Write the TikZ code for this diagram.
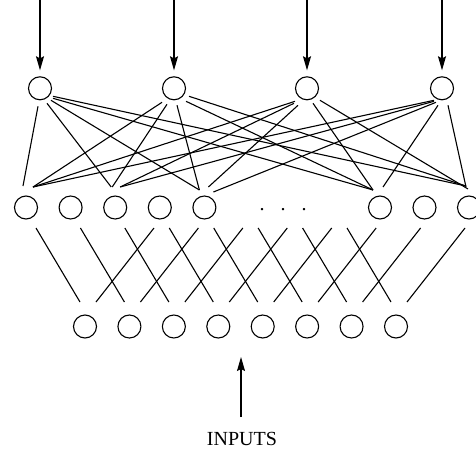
\documentclass[tikz,border=0pt]{standalone}
\usepackage{fontspec}
\setmainfont{Liberation Serif}
\usetikzlibrary{calc,arrows.meta}

\begin{document}
\begin{tikzpicture}[x=1pt,y=-1pt,
  unit/.style={circle,draw,line width=1.1pt,minimum size=23pt,inner sep=0pt},
  wire/.style={line width=1.1pt},
  feed/.style={line width=1.1pt,-{Stealth[length=14pt,width=8pt,inset=2pt]}},
  lab/.style={font=\fontsize{20}{24}\selectfont,inner sep=0pt}]
\useasboundingbox (0,0) rectangle (476,450);

% output layer
\foreach \i/\x in {1/40,2/174,3/307,4/442}
  \node[unit] (t\i) at (\x,88.3) {};

% hidden layer (visible units only)
\foreach \i/\x in {0/26,1/70.6,2/115.2,3/159.8,4/204.4,8/380,9/424.5,10/469}
  \node[unit] (m\i) at (\x,207.5) {};

% input layer
\foreach \i in {0,...,7}
  \node[unit] (b\i) at ({85+44.43*\i},326.5) {};

% ellipsis between the hidden units
\node[lab,anchor=base] (dots) at (283,210) {.\hspace{16pt}.\hspace{16pt}.};

% arrows into the output units
\foreach \i/\x in {1/40,2/174,3/307,4/442}{
  \coordinate (src\i) at (\x,-1);
  \draw[feed] (src\i) -- ($(t\i)+(0,-18)$);
}

% output -> hidden connections
\foreach \t/\m/\sx/\sy/\ex/\ey in {
  1/0/-2/18/-3/-21.5, 1/2/7/15/-4/-20.5, 1/4/11/12/-5/-17.5, 1/8/13/10/-7/-17.5, 1/10/13/8/-3/-21.5,
  2/0/-12/14/7/-20.5, 2/2/-7/16/-3/-20.5, 2/4/3/17/-5/-17.5, 2/8/12/13/-7/-17.5, 2/10/15/8/-3/-21.5,
  3/0/-12/13/7/-20.5, 3/2/-13/15/5/-20.5, 3/4/-9/17/4/-20.5, 3/8/6/15/-7/-17.5, 3/10/13/12/-1/-18.5,
  4/0/-8/12/7/-20.5, 4/2/-8/13/5/-20.5, 4/4/-6/14/9/-15.5, 4/8/-4/17/3/-20.5, 4/10/6/17/-3/-20.5}
  \draw[wire] ($(t\t)+(\sx,\sy)$) -- ($(m\m)+(\ex,\ey)$);

% hidden -> input connections
\foreach \k in {0,...,7}{
  \draw[wire] ($(b\k)+(-49,-98.5)$) -- ($(b\k)+(-5,-24.5)$);
  \draw[wire] ($(b\k)+(69,-98.5)$) -- ($(b\k)+(11,-24.5)$);
}

% input label and arrow
\node[lab,anchor=base] (inputs) at (242,445) {INPUTS};
\coordinate (inTail) at (241,417);
\coordinate (inTip) at (241,357);
\draw[feed] (inTail) -- (inTip);
\end{tikzpicture}
\end{document}
